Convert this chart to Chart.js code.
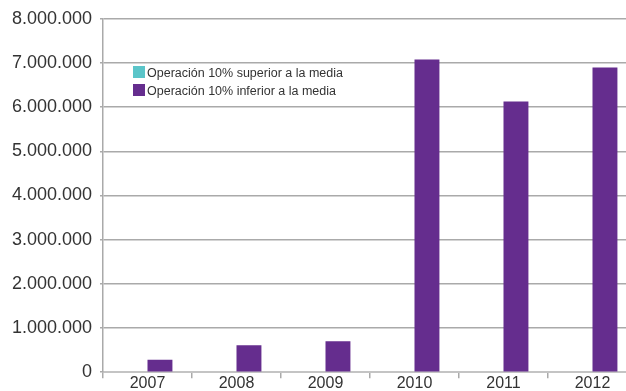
<!DOCTYPE html>
<html>
<head>
<meta charset="utf-8">
<script src="https://cdn.jsdelivr.net/npm/chart.js@4/dist/chart.umd.min.js"></script>
<style>
  html, body { margin: 0; padding: 0; background: #fff; overflow: hidden; }
  #wrap { position: relative; width: 640px; height: 391px; }
  #legend { position: absolute; left: 133px; top: 64px; font: 12.5px "Liberation Sans", Arial, sans-serif; color: #333; }
  #legend div { height: 18px; line-height: 18px; white-space: nowrap; }
  #legend span.box { display: inline-block; width: 12px; height: 12px; margin-right: 2px; vertical-align: -1px; }
</style>
</head>
<body>
<div id="wrap">
  <canvas id="chart" width="640" height="391"></canvas>
  <div id="legend"></div>
</div>
<script>
const years = ['2007', '2008', '2009', '2010', '2011', '2012'];
const superiorValues = [0, 0, 0, 0, 0, 0];
const inferiorValues = [280000, 610000, 700000, 7080000, 6130000, 6900000];
const seriesNames = ['Operación 10% superior a la media', 'Operación 10% inferior a la media'];
const seriesColors = ['#5bc5c9', '#652d8e'];

const ctx = document.getElementById('chart').getContext('2d');

// thousands separated with dots
function formatMiles(v) {
  return String(v).replace(/\B(?=(\d{3})+(?!\d))/g, '.');
}

const chart = new Chart(ctx, {
  type: 'bar',
  data: {
    labels: years,
    datasets: [
      { label: seriesNames[0], data: superiorValues, backgroundColor: seriesColors[0] },
      { label: seriesNames[1], data: inferiorValues, backgroundColor: seriesColors[1] }
    ]
  },
  options: {
    responsive: false,
    animation: false,
    layout: { padding: { top: 9, right: 3, left: 0, bottom: 0 } },
    datasets: { bar: { categoryPercentage: 0.56, barPercentage: 1 } },
    scales: {
      x: {
        grid: { drawOnChartArea: false, drawTicks: true, tickLength: 6, color: '#aaa', lineWidth: 1.5 },
        border: { color: '#c4c4c4', width: 2 },
        ticks: { color: '#333', font: { family: 'Liberation Sans', size: 16 }, padding: -4 },
        afterFit: axis => { axis.height = 17; }
      },
      y: {
        min: 0,
        max: 8000000,
        ticks: {
          stepSize: 1000000,
          color: '#333',
          font: { family: 'Liberation Sans', size: 18 },
          padding: 8,
          callback: v => formatMiles(v)
        },
        grid: { color: '#aaa', lineWidth: 1.5, tickLength: 3 },
        border: { color: '#aaa', width: 1.5 },
        afterFit: axis => { axis.width = 103; }
      }
    },
    plugins: {
      legend: { display: false },
      tooltip: { enabled: false }
    }
  }
});

// legend drawn inside the plot area
const legendDiv = document.getElementById('legend');
chart.data.datasets.forEach(ds => {
  const row = document.createElement('div');
  row.innerHTML = `<span class="box" style="background:${ds.backgroundColor}"></span>${ds.label}`;
  legendDiv.appendChild(row);
});
</script>
</body>
</html>
